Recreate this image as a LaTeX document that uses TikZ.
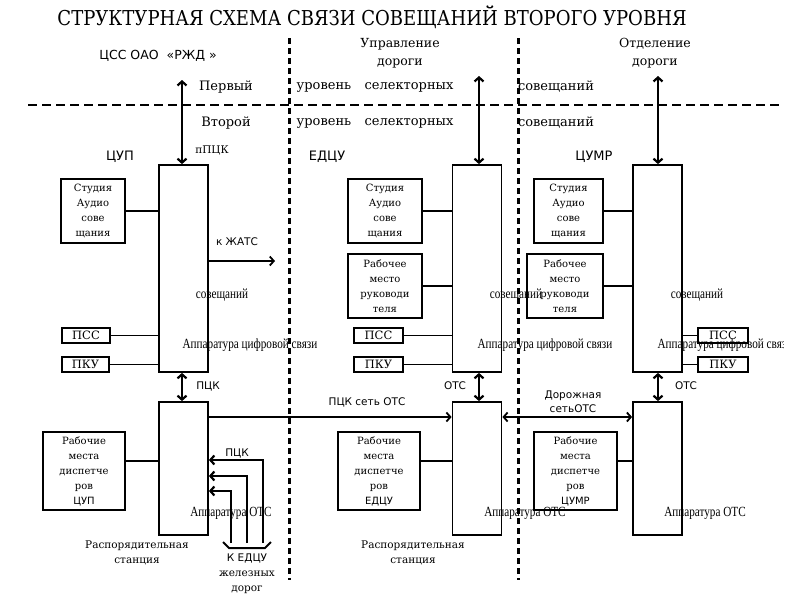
\documentclass[tikz,border=0pt]{standalone}
\usepackage{fontspec}
\setmainfont{DejaVu Serif}
\newfontfamily\sansf{DejaVu Sans}
\newfontfamily\timesf{Liberation Serif}
\usetikzlibrary{arrows.meta}

\begin{document}
\begin{tikzpicture}[x=1pt,y=-1pt,
   apbox/.style={draw,line width=1.8pt,minimum width=49pt,inner sep=0pt},
   sbox/.style={draw,line width=2pt,inner sep=0pt,align=center,font=\fontsize{10}{15}\selectfont},
   tbox/.style={draw,line width=2.6pt,inner sep=0pt,minimum height=15pt,font=\fontsize{11.5}{12}\selectfont},
   wire/.style={line width=1.8pt},
   arr/.style={line width=1.8pt,-{Straight Barb[length=4pt,width=9pt]}},
   darr/.style={line width=2.2pt,{Straight Barb[length=4pt,width=9pt]}-{Straight Barb[length=4pt,width=9pt]}},
   lvl/.style={font=\fontsize{13}{13}\selectfont},
   lbl/.style={font=\sansf\fontsize{10.5}{14}\selectfont,align=center,inner sep=0pt},
   note/.style={font=\fontsize{10.5}{15}\selectfont,align=center,inner sep=0pt},
   cond/.style={font=\timesf\fontsize{14}{14}\selectfont,xscale=0.8,inner sep=0pt}]
\path[use as bounding box,fill=white] (0,0) rectangle (800,600);
\clip (0,0) rectangle (783,600);
\node[font=\fontsize{20.5}{21}\selectfont,xscale=0.88] (title) at (372,17) {СТРУКТУРНАЯ СХЕМА СВЯЗИ СОВЕЩАНИЙ ВТОРОГО УРОВНЯ};
\draw[line width=2pt,dash pattern=on 9pt off 5pt] (28,105) -- (780,105);
\draw[line width=3pt,dash pattern=on 6pt off 4pt] (289,38) -- (289,580);
\draw[line width=3pt,dash pattern=on 6pt off 4pt] (518,38) -- (518,580);
\node[font=\sansf\fontsize{12.5}{13}\selectfont] (css) at (158,56) {ЦСС ОАО \ «РЖД »};
\node[note,font=\fontsize{12.5}{18}\selectfont] (upr) at (400,53) {Управление\\дороги};
\node[note,font=\fontsize{12.5}{18}\selectfont] (otd) at (655,53) {Отделение\\дороги};
\node[lvl] (l1a) at (226,87) {Первый};
\node[lvl] (l1b) at (324,87) {уровень};
\node[lvl] (l1c) at (409,87) {селекторных};
\node[lvl] (l1d) at (556,87) {совещаний};
\node[lvl] (l2a) at (226,123) {Второй};
\node[lvl] (l2b) at (324,123) {уровень};
\node[lvl] (l2c) at (409,123) {селекторных};
\node[lvl] (l2d) at (556,123) {совещаний};
\node[font=\sansf\fontsize{13}{13}\selectfont] (tcup) at (120,157) {ЦУП};
\node[font=\sansf\fontsize{13}{13}\selectfont] (tedcu) at (327,157) {ЕДЦУ};
\node[font=\sansf\fontsize{13}{13}\selectfont] (tcumr) at (594,157) {ЦУМР};
\node[font=\fontsize{10.5}{11}\selectfont] (ppck) at (212,150) {пПЦК};
\node[apbox,minimum height=207pt] (cup) at (183.5,268.5) {};
\node[apbox,minimum height=207pt] (edcu) at (477,268.5) {};
\node[apbox,minimum height=207pt] (cumr) at (657.5,268.5) {};
\node[apbox,minimum height=133pt] (cupo) at (183.5,468.5) {};
\node[apbox,minimum height=133pt] (edcuo) at (477,468.5) {};
\node[apbox,minimum height=133pt] (cumro) at (657.5,468.5) {};
\node[cond] (sov1) at (222,295) {совещаний};
\node[cond] (sov2) at (516,295) {совещаний};
\node[cond] (sov3) at (697,295) {совещаний};
\node[cond] (acs1) at (250,345) {Аппаратура цифровой связи};
\node[cond] (acs2) at (545,345) {Аппаратура цифровой связи};
\node[cond] (acs3) at (725,345) {Аппаратура цифровой связи};
\node[cond] (aots1) at (231,513) {Аппаратура ОТС};
\node[cond] (aots2) at (525,513) {Аппаратура ОТС};
\node[cond] (aots3) at (705,513) {Аппаратура ОТС};
\node[sbox,minimum width=64pt,minimum height=64pt] (st1) at (93,211) {Студия\\Аудио\\сове\\щания};
\node[sbox,minimum width=74pt,minimum height=64pt] (st2) at (385,211) {Студия\\Аудио\\сове\\щания};
\node[sbox,minimum width=69pt,minimum height=64pt] (st3) at (568.5,211) {Студия\\Аудио\\сове\\щания};
\node[sbox,minimum width=74pt,minimum height=64pt] (rm2) at (385,286) {Рабочее\\место\\руководи\\теля};
\node[sbox,minimum width=76pt,minimum height=64pt] (rm3) at (565,286) {Рабочее\\место\\руководи\\теля};
\node[tbox,minimum width=48pt] (pss1) at (86,335.5) {ПСС};
\node[tbox,minimum width=47pt] (pku1) at (85.5,364.5) {ПКУ};
\node[tbox,minimum width=49pt] (pss2) at (378.5,335.5) {ПСС};
\node[tbox,minimum width=49pt] (pku2) at (378.5,364.5) {ПКУ};
\node[tbox,minimum width=50pt] (pss3) at (723,335.5) {ПСС};
\node[tbox,minimum width=50pt] (pku3) at (723,364.5) {ПКУ};
\node[sbox,minimum width=82pt,minimum height=78pt] (dsp1) at (84,471) {Рабочие\\места\\диспетче\\ров\\{\sansf ЦУП}};
\node[sbox,minimum width=82pt,minimum height=78pt] (dsp2) at (379,471) {Рабочие\\места\\диспетче\\ров\\{\sansf ЕДЦУ}};
\node[sbox,minimum width=83pt,minimum height=78pt] (dsp3) at (575.5,471) {Рабочие\\места\\диспетче\\ров\\{\sansf ЦУМР}};
\coordinate (top1) at (182,80);
\coordinate (top2) at (479,76);
\coordinate (top3) at (658,76);
\draw[darr] (top1) -- (top1 |- cup.north);
\draw[darr] (top2) -- (top2 |- edcu.north);
\draw[darr] (top3) -- (top3 |- cumr.north);
\draw[darr] (top1 |- cup.south) -- (top1 |- cupo.north);
\draw[darr] (top2 |- edcu.south) -- (top2 |- edcuo.north);
\draw[darr] (top3 |- cumr.south) -- (top3 |- cumro.north);
\node[lbl] (lpck) at (208,386) {ПЦК};
\node[lbl] (lots2) at (455,386) {ОТС};
\node[lbl] (lots3) at (686,386) {ОТС};
\draw[line width=2.6pt] (st1.east) -- (st1.east -| cup.west);
\draw[line width=2.6pt] (st2.east) -- (st2.east -| edcu.west);
\draw[line width=2.6pt] (st3.east) -- (st3.east -| cumr.west);
\draw[line width=2.6pt] (rm2.east) -- (rm2.east -| edcu.west);
\draw[line width=2.6pt] (rm3.east) -- (rm3.east -| cumr.west);
\draw[wire] (pss1.east) -- (pss1.east -| cup.west);
\draw[wire] (pku1.east) -- (pku1.east -| cup.west);
\draw[wire] (pss2.east) -- (pss2.east -| edcu.west);
\draw[wire] (pku2.east) -- (pku2.east -| edcu.west);
\draw[wire] (pss3.west -| cumr.east) -- (pss3.west);
\draw[wire] (pku3.west -| cumr.east) -- (pku3.west);
\coordinate (zhats) at (275,261);
\draw[arr] (cup.east |- zhats) -- (zhats);
\node[lbl] (lzhats) at (237,242) {к ЖАТС};
\coordinate (dl) at (0,461);
\draw[wire] (dsp1.east |- dl) -- (cupo.west |- dl);
\draw[wire] (dsp2.east |- dl) -- (edcuo.west |- dl);
\draw[wire] (dsp3.east |- dl) -- (cumro.west |- dl);
\coordinate (net) at (0,417);
\draw[arr] (cupo.east |- net) -- (edcuo.west |- net);
\draw[darr,line width=1.8pt] (edcuo.east |- net) -- (cumro.west |- net);
\node[lbl] (lnet) at (367,402) {ПЦК сеть ОТС};
\node[lbl] (lroad) at (573,401.5) {Дорожная\\сетьОТС};
\coordinate (f1) at (263,543);
\coordinate (f2) at (247,543);
\coordinate (f3) at (231,543);
\coordinate (g1) at (0,460);
\coordinate (g2) at (0,476);
\coordinate (g3) at (0,491);
\draw[arr,line width=2.2pt] (f1) |- (cupo.east |- g1);
\draw[arr,line width=2.2pt] (f2) |- (cupo.east |- g2);
\draw[arr,line width=2.2pt] (f3) |- (cupo.east |- g3);
\node[lbl] (lpck2) at (237,453) {ПЦК};
\draw[line width=2pt] (223,542) -- (229,548) -- (265,548) -- (271,542);
\node[note] (ked) at (247,573.5) {{\sansf К ЕДЦУ}\\железных\\дорог};
\node[note] (rs1) at (137,553) {Распорядительная\\станция};
\node[note] (rs2) at (413,553) {Распорядительная\\станция};
\end{tikzpicture}
\end{document}
